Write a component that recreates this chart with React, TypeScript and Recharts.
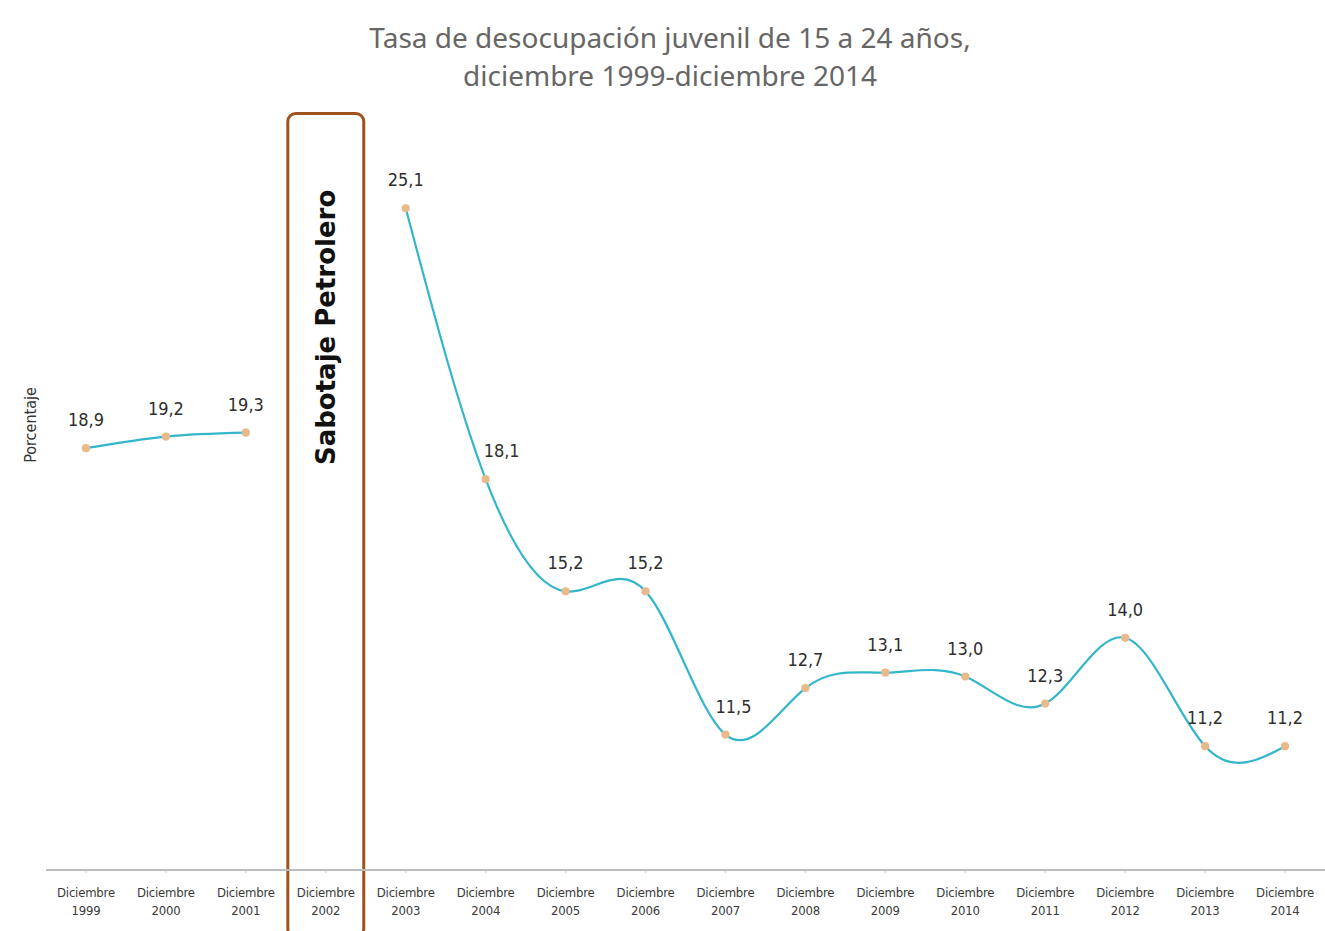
import React from 'react';
import { LineChart, Line, XAxis, YAxis, ReferenceArea, LabelList } from 'recharts';

const categories = ['1999', '2000', '2001', '2002', '2003', '2004', '2005', '2006', '2007', '2008', '2009', '2010', '2011', '2012', '2013', '2014'];
const tasa: (number | null)[] = [18.9, 19.2, 19.3, null, 25.1, 18.1, 15.2, 15.2, 11.5, 12.7, 13.1, 13.0, 12.3, 14.0, 11.2, 11.2];
const labelShift: Record<string, number> = { '2004': 16, '2007': 8, '2013': 0 };

const data = categories.map((c, i) => ({ year: c, tasa: tasa[i] }));

const NARROW = "'DejaVu Sans Condensed', 'Liberation Sans Narrow', sans-serif";

const Tick = (props: any) => {
  const { x, y, payload } = props;
  return (
    <g transform={`translate(${x},${y})`}>
      <text x={0} y={0} textAnchor="middle" fontFamily={NARROW} fontSize={13} fill="#3a3a3a" letterSpacing={-0.2}>
        <tspan x={0} dy={22}>Diciembre</tspan>
        <tspan x={0} dy={18}>{payload.value}</tspan>
      </text>
    </g>
  );
};

const ValueLabel = (props: any) => {
  const { x, y, value, index } = props;
  if (value == null) return null;
  const dx = labelShift[categories[index]] || 0;
  return (
    <text x={x + dx} y={y - 22} textAnchor="middle" fontFamily={NARROW} fontSize={18} fill="#2e2e2e">
      {Number(value).toFixed(1).replace('.', ',')}
    </text>
  );
};

const BoxShape = (props: any) => {
  const { x, y, width } = props;
  const bottom = 931;
  return (
    <g>
      <rect x={x + 2} y={y} width={width - 4} height={bottom - y + 6} rx={8} ry={8}
        fill="none" stroke="#a0521e" strokeWidth={3} />
      <text transform={`translate(${x + width / 2 + 9},${y + 214}) rotate(-90)`} textAnchor="middle"
        fontFamily="'DejaVu Sans', sans-serif" fontWeight="bold" fontSize={26} fill="#111">
        Sabotaje Petrolero
      </text>
    </g>
  );
};

export default function App() {
  const titleStyle: React.CSSProperties = { position: 'absolute', left: 0, width: 1340, textAlign: 'center', color: '#666', fontSize: 28, lineHeight: '38px', fontFamily: "'Noto Sans', sans-serif", whiteSpace: 'nowrap' };
  return (
    <div style={{ position: 'absolute', left: 0, top: 0, width: 1325, height: 931, background: '#fff' }}>
      <div style={{ ...titleStyle, top: 18 }}>Tasa de desocupación juvenil de 15 a 24 años,</div>
      <div style={{ ...titleStyle, top: 56 }}>diciembre 1999-diciembre 2014</div>
      <div style={{ position: 'absolute', left: 30, top: 425, transform: 'translate(-50%, -50%) rotate(-90deg)', fontFamily: NARROW, fontSize: 16, color: '#333', whiteSpace: 'nowrap' }}>
        Porcentaje
      </div>
      <div style={{ position: 'absolute', left: 0, top: 0 }}>
        <LineChart width={1325} height={931} data={data} margin={{ top: 96, right: 0, left: 46, bottom: 0 }}>
          <XAxis dataKey="year" scale="band" height={61} tick={<Tick />} tickLine={{ stroke: '#ccc' }} tickSize={3}
            axisLine={{ stroke: '#bbb', strokeWidth: 2 }} interval={0} />
          <YAxis hide domain={[8, 28]} />
          <ReferenceArea x1="2002" x2="2002" y1={8} y2={27.55} ifOverflow="visible" shape={<BoxShape />} />
          <Line type="natural" dataKey="tasa" stroke="#33b5cc" strokeWidth={2.2} connectNulls={false}
            dot={{ r: 3, fill: '#e8b98a', stroke: '#e8b98a' }} isAnimationActive={false}>
            <LabelList dataKey="tasa" content={<ValueLabel />} />
          </Line>
        </LineChart>
      </div>
    </div>
  );
}
